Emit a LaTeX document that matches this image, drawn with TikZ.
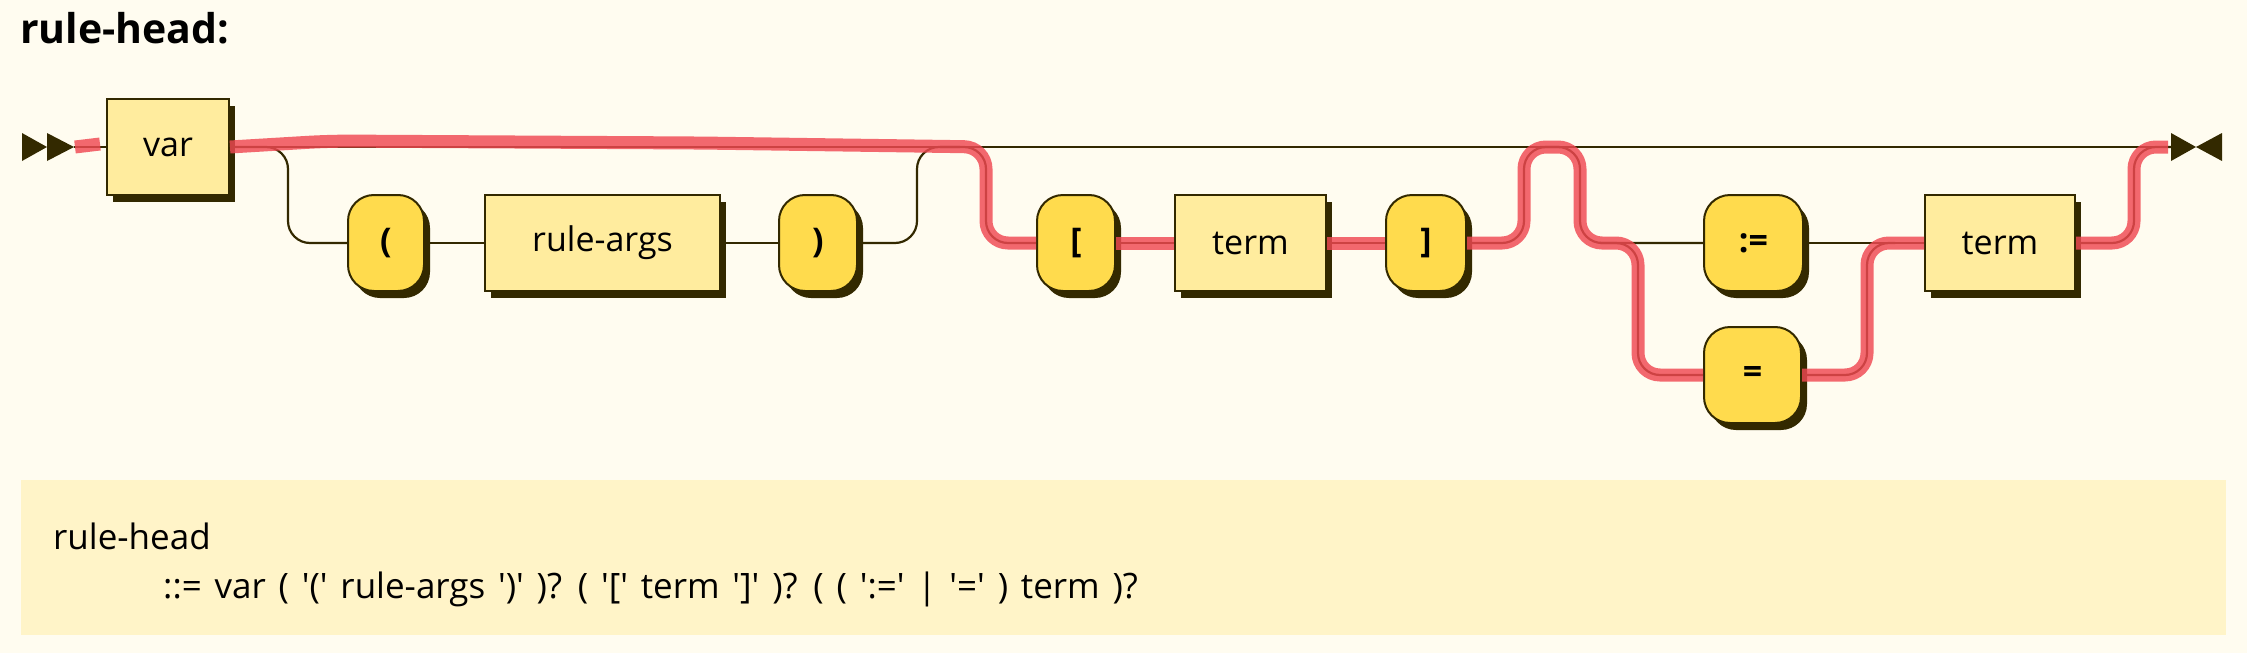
\documentclass[tikz,border=0pt]{standalone}
\usepackage{fontspec}
\setmainfont{Open Sans}
\usetikzlibrary{shadows}
\definecolor{bg}{HTML}{FFFCF0}
\definecolor{brd}{HTML}{332900}
\definecolor{ntf}{HTML}{FFEC9E}
\definecolor{tf}{HTML}{FFDB4D}
\definecolor{ebg}{HTML}{FFF4C8}
\definecolor{hl}{RGB}{240,72,82}
\newcommand{\q}{\textquotesingle}
\newcommand{\widesp}{\spaceskip=12.8pt plus 0pt minus 0pt\relax}
\begin{document}
\begin{tikzpicture}[x=1pt,y=-1pt,
  conn/.style={draw=brd,line width=2.2pt},
  rc/.style={conn,rounded corners=22pt},
  shad/.style={drop shadow={shadow xshift=6pt,shadow yshift=-7pt,fill=brd,opacity=1}},
  ntbox/.style={rectangle,draw=brd,line width=2pt,fill=ntf,minimum height=96pt,inner sep=0pt,shad,font=\fontsize{34}{40}\selectfont},
  tbox/.style={rectangle,rounded corners=26pt,draw=brd,line width=2pt,fill=tf,minimum height=96pt,inner sep=0pt,shad,font=\fontsize{34}{40}\selectfont\bfseries},
  hlpath/.style={draw=hl,line width=13pt,opacity=0.82,rounded corners=22pt},
  marker/.style={fill=brd},
  ebnf/.style={anchor=base west,inner sep=0pt,font=\fontsize{35}{41}\selectfont}
]
\useasboundingbox (0,0) rectangle (2247,653);
\fill[bg] (0,0) rectangle (2247,653);

% title
\node[anchor=base west,inner sep=0pt,font=\fontsize{41}{48}\selectfont\bfseries] (title) at (20,43) {rule-head:};

% markers
\fill[marker] (22,133) -- (47,147) -- (22,161) -- cycle;
\fill[marker] (47,133) -- (74,147) -- (47,161) -- cycle;
\fill[marker] (2171,133) -- (2196,147) -- (2171,161) -- cycle;
\fill[marker] (2222,133) -- (2196,147) -- (2222,161) -- cycle;
\coordinate (s) at (74,147);
\coordinate (e) at (2171,147);

% nodes
\node[ntbox,minimum width=122pt] (var) at (168,147) {var};
\node[tbox,minimum width=76pt] (lp) at (386,243) {(};
\node[ntbox,minimum width=235pt] (args) at (602.5,243) {rule-args};
\node[tbox,minimum width=78pt] (rp) at (818,243) {)};
\node[tbox,minimum width=78pt] (lb) at (1076,243) {[};
\node[ntbox,minimum width=151pt] (t1) at (1250.5,243) {term};
\node[tbox,minimum width=80pt] (rb) at (1426,243) {]};
\node[tbox,minimum width=99pt] (as) at (1753.5,243) {:=};
\node[tbox,minimum width=97pt] (eq) at (1752.5,375) {=};
\node[ntbox,minimum width=150pt] (t2) at (2000,243) {term};

% junction coordinates
\coordinate (j1) at (960,147);
\coordinate (j2) at (940,147);
\coordinate (j3) at (1560,147);
\coordinate (j4) at (1540,147);
\coordinate (j5) at (1600,243);
\coordinate (j6) at (1895,243);

% connectors
\draw[conn] (s) -- (var.west);
\draw[conn] (var.east) -- (e);
\draw[rc] (var.east) -- (288,147) -- (288,243) -- (lp.west);
\draw[conn] (lp.east) -- (args.west);
\draw[conn] (args.east) -- (rp.west);
\draw[rc] (rp.east) -- (917,243) -- (917,147) -- (j1);
\draw[rc] (j2) -- (986,147) -- (986,243) -- (lb.west);
\draw[conn] (lb.east) -- (t1.west);
\draw[conn] (t1.east) -- (rb.west);
\draw[rc] (rb.east) -- (1524,243) -- (1524,147) -- (j3);
\draw[rc] (j4) -- (1580,147) -- (1580,243) -- (as.west);
\draw[rc] (j5) -- (1638,243) -- (1638,375) -- (eq.west);
\draw[conn] (as.east) -- (t2.west);
\draw[rc] (eq.east) -- (1867,375) -- (1867,243) -- (j6);
\draw[rc] (t2.east) -- (2134,243) -- (2134,147) -- (e);

% highlight
\draw[hlpath] (75,147) -- (100,144);
\draw[hlpath] (var.east) -- (330,141) -- (700,143) -- (986,147) -- (986,243) -- (lb.west);
\draw[hlpath] (lb.east) -- (t1.west);
\draw[hlpath] (t1.east) -- (rb.west);
\draw[hlpath] (rb.east) -- (1524,243) -- (1524,147) -- (1580,147) -- (1580,243) -- (1638,243) -- (1638,375) -- (eq.west);
\draw[hlpath] (eq.east) -- (1867,375) -- (1867,243) -- (t2.west);
\draw[hlpath] (t2.east) -- (2134,243) -- (2134,147) -- (2168,147);

% EBNF box
\fill[ebg] (21,480) rectangle (2226,635);
\node[ebnf] (l1) at (53,549) {rule-head};
\node[ebnf] (l2) at (163,598) {\widesp ::= var ( \q(\q{} rule-args \q)\q{} )? ( \q[\q{} term \q]\q{} )? ( ( \q:=\q{} | \q=\q{} ) term )?};
\end{tikzpicture}
\end{document}
